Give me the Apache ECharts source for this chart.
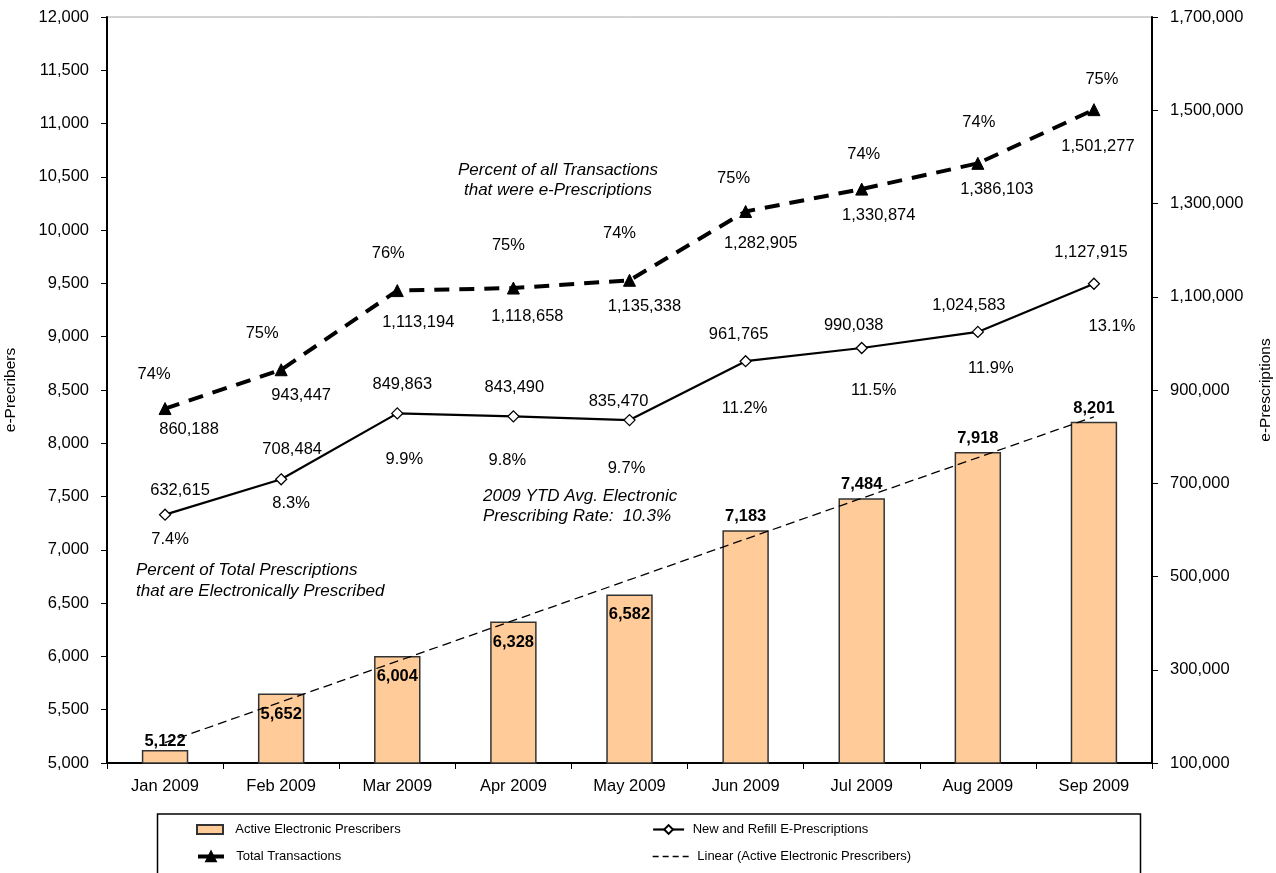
<!DOCTYPE html>
<html>
<head>
<meta charset="utf-8">
<title>e-Prescribing Activity, 2009</title>
<script src="https://cdn.jsdelivr.net/npm/echarts@6/dist/echarts.min.js"></script>
<style>
  html, body { margin: 0; padding: 0; background: #ffffff; }
  #chart { width: 1276px; height: 873px; }
</style>
</head>
<body>
<div id="chart"></div>
<script>
// ---- Data -------------------------------------------------------------
const months = ['Jan 2009', 'Feb 2009', 'Mar 2009', 'Apr 2009', 'May 2009',
                'Jun 2009', 'Jul 2009', 'Aug 2009', 'Sep 2009'];

// Active Electronic Prescribers (left axis)
const activePrescribers = [5122, 5652, 6004, 6328, 6582, 7183, 7484, 7918, 8201];

// New and Refill E-Prescriptions (right axis) and their share of all prescriptions
const ePrescriptions = [632615, 708484, 849863, 843490, 835470, 961765, 990038, 1024583, 1127915];
const ePrescribingRate = ['7.4%', '8.3%', '9.9%', '9.8%', '9.7%', '11.2%', '11.5%', '11.9%', '13.1%'];

// Total Transactions (right axis) and the share that were e-prescriptions
const totalTransactions = [860188, 943447, 1113194, 1118658, 1135338, 1282905, 1330874, 1386103, 1501277];
const ePrescriptionShare = ['74%', '75%', '76%', '75%', '74%', '75%', '74%', '74%', '75%'];

// Linear trend of active prescribers, at the first and last month
const trendEnds = [5191, 8248];

// Axis ranges
const leftAxisRange = { min: 5000, max: 12000, step: 500 };
const rightAxisRange = { min: 100000, max: 1700000, step: 200000 };

// ---- Label placement (pixel offsets from each point) ---------------------
const totalShareOffsets = [[-11, -34], [-19, -36], [-9, -37], [-5, -43], [-10, -47],
                           [-12, -33], [2, -35], [1, -41], [8, -30]];
const totalValueOffsets = [[24, 21], [20, 26], [21, 32], [14, 28], [15, 26],
                           [15, 32], [17, 26], [19, 26], [4, 37]];
const refillValueOffsets = [[15, -24], [11, -30], [5, -29], [1, -29], [-11, -19],
                            [-7, -27], [-8, -23], [-9, -26], [-3, -31]];
const refillRateOffsets = [[5, 25], [10, 24], [7, 46], [-6, 44], [-3, 48],
                           [-1, 47], [12, 42], [13, 37], [18, 43]];
// bar value labels: Jan sits on the bar, Feb-May inside the top, Jun-Sep above
const barLabelPlacement = [['top', 0], ['insideTop', 12], ['insideTop', 12], ['insideTop', 12],
                           ['insideTop', 12], ['top', 5], ['top', 5], ['top', 5], ['top', 5]];

// ---- Helpers ----------------------------------------------------------
const FONT = '"Liberation Sans", Arial, Helvetica, sans-serif';
const fmt = v => Number(v).toLocaleString('en-US');

const withOffsets = (values, offsets) => values.map((v, i) => ({
  value: v,
  label: { offset: offsets[i] }
}));

const trendData = months.map((m, i) =>
  i === 0 ? trendEnds[0] : (i === months.length - 1 ? trendEnds[1] : null));

const barData = activePrescribers.map((v, i) => ({
  value: v,
  label: { position: barLabelPlacement[i][0], distance: barLabelPlacement[i][1] }
}));

const pointLabel = {
  show: true,
  position: 'inside',
  align: 'center',
  verticalAlign: 'middle',
  color: '#000',
  opacity: 1,
  fontFamily: FONT,
  fontSize: 16.5
};

const legendBase = {
  orient: 'horizontal',
  padding: 0,
  itemGap: 0,
  selectedMode: false,
  textStyle: { color: '#000', fontFamily: FONT, fontSize: 13 }
};

const chart = echarts.init(document.getElementById('chart'), null, { renderer: 'canvas' });

chart.setOption({
  backgroundColor: '#ffffff',
  animation: false,
  textStyle: { fontFamily: FONT },
  grid: {
    left: 107, right: 124, top: 17, bottom: 110,
    containLabel: false,
    outerBoundsMode: 'none',
    show: true, borderColor: '#a6a6a6', borderWidth: 1, backgroundColor: 'transparent'
  },
  xAxis: {
    type: 'category',
    data: months,
    boundaryGap: true,
    axisLine: { show: true, lineStyle: { color: '#000', width: 2 } },
    axisTick: { show: true, interval: 0, length: 6, lineStyle: { color: '#000', width: 1 } },
    axisLabel: { interval: 0, color: '#000', fontFamily: FONT, fontSize: 16.5, margin: 15 },
    splitLine: { show: false }
  },
  yAxis: [
    {
      type: 'value',
      position: 'left',
      min: leftAxisRange.min, max: leftAxisRange.max, interval: leftAxisRange.step,
      name: 'e-Precribers',
      nameLocation: 'middle',
      nameRotate: 90,
      nameGap: 88,
      nameTextStyle: { color: '#000', fontFamily: FONT, fontSize: 15.5 },
      axisLine: { show: true, lineStyle: { color: '#000', width: 2 } },
      axisTick: { show: true, length: 6, lineStyle: { color: '#000', width: 1 } },
      axisLabel: { color: '#000', fontFamily: FONT, fontSize: 16.5, margin: 18, formatter: v => fmt(v) },
      splitLine: { show: false }
    },
    {
      type: 'value',
      position: 'right',
      min: rightAxisRange.min, max: rightAxisRange.max, interval: rightAxisRange.step,
      name: 'e-Prescriptions',
      nameLocation: 'middle',
      nameRotate: 90,
      nameGap: 106,
      nameTextStyle: { color: '#000', fontFamily: FONT, fontSize: 15.5 },
      axisLine: { show: true, lineStyle: { color: '#000', width: 2 } },
      axisTick: { show: true, length: 6, lineStyle: { color: '#000', width: 1 } },
      axisLabel: { color: '#000', fontFamily: FONT, fontSize: 16.5, margin: 18, formatter: v => fmt(v) },
      splitLine: { show: false }
    }
  ],
  legend: [
    Object.assign({}, legendBase, {
      data: [{ name: 'Active Electronic Prescribers', icon: 'rect' }], left: 196, top: 823,
      itemWidth: 26, itemHeight: 9, formatter: n => '  ' + n
    }),
    Object.assign({}, legendBase, {
      data: ['New and Refill E-Prescriptions'], left: 652, top: 823,
      itemWidth: 31, itemHeight: 11, formatter: n => ' ' + n,
      lineStyle: { width: 2.2 }
    }),
    Object.assign({}, legendBase, {
      data: ['Total Transactions'], left: 196, top: 850,
      itemWidth: 26, itemHeight: 12, formatter: n => '  ' + n,
      lineStyle: { width: 4, type: 'solid' }
    }),
    Object.assign({}, legendBase, {
      data: ['Linear (Active Electronic Prescribers)'], left: 652, top: 850,
      itemWidth: 36, itemHeight: 12, formatter: n => ' ' + n,
      itemStyle: { opacity: 0 },
      lineStyle: { width: 1.3, type: [6, 4] }
    })
  ],
  graphic: [
    {
      type: 'rect', silent: true, z: 0,
      shape: { x: 157.5, y: 814, width: 983, height: 80 },
      style: { fill: 'none', stroke: '#000', lineWidth: 1.5 }
    },
    {
      type: 'text', silent: true,
      x: 558, y: 161,
      style: {
        text: 'Percent of all Transactions\nthat were e-Prescriptions',
        align: 'center', verticalAlign: 'top', lineHeight: 19.5,
        fontFamily: FONT, fontSize: 17, fontStyle: 'italic', fill: '#000'
      }
    },
    {
      type: 'text', silent: true,
      x: 483, y: 487,
      style: {
        text: '2009 YTD Avg. Electronic\nPrescribing Rate:  10.3%',
        align: 'left', verticalAlign: 'top', lineHeight: 19.5,
        fontFamily: FONT, fontSize: 17, fontStyle: 'italic', fill: '#000'
      }
    },
    {
      type: 'text', silent: true,
      x: 136, y: 560,
      style: {
        text: 'Percent of Total Prescriptions\nthat are Electronically Prescribed',
        align: 'left', verticalAlign: 'top', lineHeight: 21,
        fontFamily: FONT, fontSize: 17, fontStyle: 'italic', fill: '#000'
      }
    }
  ],
  series: [
    {
      name: 'Active Electronic Prescribers',
      type: 'bar',
      yAxisIndex: 0,
      barWidth: '40%',
      z: 2,
      data: barData,
      itemStyle: { color: '#FFCC99', borderColor: '#333333', borderWidth: 1.5 },
      label: {
        show: true, color: '#000', fontFamily: FONT, fontSize: 16.5, fontWeight: 'bold',
        formatter: p => fmt(p.value)
      }
    },
    {
      name: 'Linear (Active Electronic Prescribers)',
      type: 'line',
      yAxisIndex: 0,
      z: 3,
      data: trendData,
      connectNulls: true,
      symbol: 'none',
      silent: true,
      itemStyle: { color: '#000' },
      lineStyle: { color: '#000', width: 1.3, type: [9, 5] }
    },
    {
      name: 'New and Refill E-Prescriptions',
      type: 'line',
      yAxisIndex: 1,
      z: 4,
      data: withOffsets(ePrescriptions, refillValueOffsets),
      symbol: 'diamond',
      symbolSize: 11,
      itemStyle: { color: '#ffffff', borderColor: '#000', borderWidth: 1.3 },
      lineStyle: { color: '#000', width: 2.2 },
      label: Object.assign({}, pointLabel, { formatter: p => fmt(p.value) })
    },
    {
      name: 'Total Transactions',
      type: 'line',
      yAxisIndex: 1,
      z: 4,
      data: withOffsets(totalTransactions, totalValueOffsets),
      symbol: 'triangle',
      symbolSize: 12,
      itemStyle: { color: '#000', borderColor: '#000', borderWidth: 1 },
      lineStyle: { color: '#000', width: 4, type: [15, 10] },
      label: Object.assign({}, pointLabel, { formatter: p => fmt(p.value) })
    },
    {
      // share-of-prescriptions labels under the e-prescription points
      name: 'rateLabels',
      type: 'scatter',
      yAxisIndex: 1,
      z: 5,
      silent: true,
      symbolSize: 1,
      itemStyle: { color: 'rgba(0,0,0,0)', opacity: 1 },
      data: withOffsets(ePrescriptions, refillRateOffsets),
      label: Object.assign({}, pointLabel, { formatter: p => ePrescribingRate[p.dataIndex] })
    },
    {
      // share-of-transactions labels above the total transaction points
      name: 'shareLabels',
      type: 'scatter',
      yAxisIndex: 1,
      z: 5,
      silent: true,
      symbolSize: 1,
      itemStyle: { color: 'rgba(0,0,0,0)', opacity: 1 },
      data: withOffsets(totalTransactions, totalShareOffsets),
      label: Object.assign({}, pointLabel, { formatter: p => ePrescriptionShare[p.dataIndex] })
    }
  ]
});
</script>
</body>
</html>
